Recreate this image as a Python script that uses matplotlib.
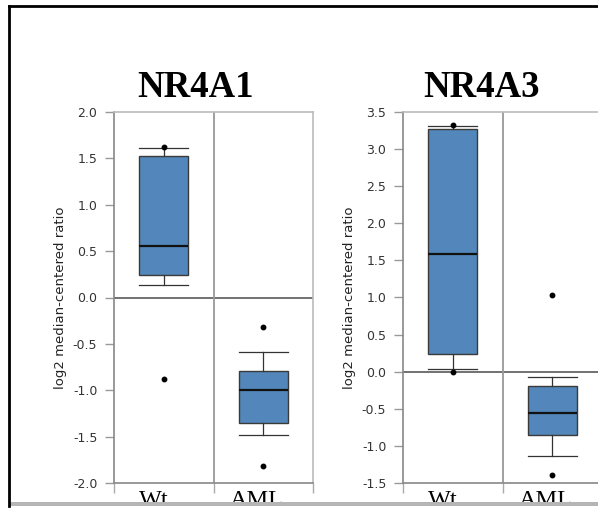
import matplotlib.pyplot as plt
from matplotlib.patches import Rectangle
from matplotlib.lines import Line2D

plt.rcParams['axes.unicode_minus'] = False

W, H = 598, 509

genes = ['NR4A1', 'NR4A3']
groups = ['Wt', 'AML']

# box stats: (whislo, q1, med, q3, whishi)
nr4a1_wt = [0.13, 0.24, 0.55, 1.53, 1.61]
nr4a1_aml = [-1.48, -1.35, -1.0, -0.79, -0.59]
nr4a3_wt = [0.03, 0.24, 1.58, 3.27, 3.31]
nr4a3_aml = [-1.14, -0.85, -0.56, -0.19, -0.07]

nr4a1_wt_out = [1.62, -0.88]
nr4a1_aml_out = [-0.32, -1.82]
nr4a3_wt_out = [3.33, 0.0]
nr4a3_aml_out = [1.04, -1.39]

ylims = [(-2.0, 2.0), (-1.5, 3.5)]
yticks = [[-2.0, -1.5, -1.0, -0.5, 0.0, 0.5, 1.0, 1.5, 2.0],
          [-1.5, -1.0, -0.5, 0.0, 0.5, 1.0, 1.5, 2.0, 2.5, 3.0, 3.5]]

panels = [
    [nr4a1_wt, nr4a1_aml], [nr4a3_wt, nr4a3_aml]
]
outs = [
    [nr4a1_wt_out, nr4a1_aml_out], [nr4a3_wt_out, nr4a3_aml_out]
]

fig = plt.figure(figsize=(W / 100, H / 100), dpi=100)
fig.patch.set_facecolor('white')


def px_axes(l, t, r, b):
    return fig.add_axes([l / W, 1 - b / H, (r - l) / W, (b - t) / H])


lefts = [114, 403]
title_x = [195, 482]
for i in range(2):
    ax = px_axes(lefts[i], 112, lefts[i] + 199, 483)
    stats = []
    for j in range(2):
        lo, q1, med, q3, hi = panels[i][j]
        stats.append(dict(whislo=lo, q1=q1, med=med, q3=q3, whishi=hi,
                          fliers=outs[i][j]))
    ax.bxp(stats, positions=[1, 2], widths=0.49, patch_artist=True,
           boxprops=dict(facecolor='#5386ba', edgecolor='#3a3a3a', linewidth=1),
           medianprops=dict(color='#111111', linewidth=1.6),
           whiskerprops=dict(color='#333333', linewidth=0.9),
           capprops=dict(color='#333333', linewidth=0.9),
           capwidths=0.49,
           flierprops=dict(marker='o', markersize=3.2, markerfacecolor='black',
                           markeredgecolor='black'))
    ax.set_xlim(0.5, 2.5)
    ax.set_ylim(*ylims[i])
    ax.set_yticks(yticks[i])
    ax.set_yticklabels(['%.1f' % v for v in yticks[i]])
    ax.axhline(0, color='#666666', linewidth=1.3, zorder=1)
    ax.axvline(1.5, color='#999999', linewidth=1.3, zorder=1)
    ax.set_xticks([0.5, 1.5, 2.5])
    ax.set_xticklabels([])
    ax.tick_params(axis='x', length=7, color='#aaaaaa', width=1)
    ax.tick_params(axis='y', length=6.5, color='#999999', width=1,
                   labelsize=9, labelcolor='#333333', pad=5.5)
    for s in ['left', 'bottom']:
        ax.spines[s].set_color('#888888')
        ax.spines[s].set_linewidth(1.2)
    for s in ['top', 'right']:
        ax.spines[s].set_color('#bbbbbb')
        ax.spines[s].set_linewidth(1.2)
    ax.set_ylabel('log2 median-centered ratio', fontsize=9.5, color='#222222',
                  labelpad=4)
    ax.text(1 - 0.1, -0.02, groups[0], transform=ax.get_xaxis_transform(),
            ha='center', va='top', fontsize=17.5, family='Liberation Serif')
    ax.text(2 - 0.07, -0.02, groups[1], transform=ax.get_xaxis_transform(),
            ha='center', va='top', fontsize=17.5, family='Liberation Serif')
    fig.text(title_x[i] / W, 1 - 97 / H, genes[i], ha='center', va='baseline',
             fontsize=26.5, fontweight='bold', family='Liberation Serif')

# frame and bottom shadow
fig.add_artist(Rectangle((0, 0), 1, 6 / H, transform=fig.transFigure,
                         facecolor='white', edgecolor='none', zorder=10))
fig.add_artist(Rectangle((10 / W, 3 / H), 1, 4 / H, transform=fig.transFigure,
                         facecolor='#b5b5b5', edgecolor='none', zorder=11))
fig.add_artist(Line2D([9 / W, 9 / W], [3 / H, 1 - 6 / H], transform=fig.transFigure,
                      color='black', linewidth=2, zorder=12))
fig.add_artist(Line2D([9 / W, 1], [1 - 6 / H, 1 - 6 / H], transform=fig.transFigure,
                      color='black', linewidth=2, zorder=12))

fig.savefig('out.png', dpi=100)
